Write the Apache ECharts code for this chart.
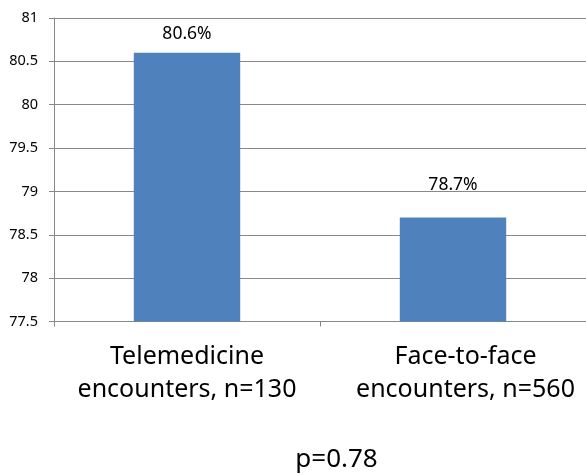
<!DOCTYPE html>
<html>
<head>
<meta charset="utf-8">
<script src="https://cdn.jsdelivr.net/npm/echarts@6/dist/echarts.min.js"></script>
<style>
  html, body { margin: 0; padding: 0; background: #fff; }
  #chart { width: 586px; height: 475px; }
</style>
</head>
<body>
<div id="chart"></div>
<script>
// Share of encounters, by visit type
const categories = ['Telemedicine\nencounters, n=130', 'Face-to-face\nencounters, n=560'];
const values = [80.6, 78.7];
const valueLabels = ['80.6%', '78.7%'];
const labelGaps = [10, 23];
const pValueText = 'p=0.78';

const FONT = '"Noto Sans", "Open Sans", sans-serif';

const chart = echarts.init(document.getElementById('chart'), null, { renderer: 'canvas' });

// the right-hand category caption sits a little right of its slot
const categoryData = categories.map((c, i) =>
  i === 1 ? { value: c, textStyle: { padding: [0, 0, 0, 25] } } : c
);

chart.setOption({
  animation: false,
  backgroundColor: '#ffffff',
  grid: { left: 54, top: 18, width: 534, height: 303.5, containLabel: false },
  xAxis: {
    type: 'category',
    data: categoryData,
    boundaryGap: true,
    axisLine: { show: true, lineStyle: { color: '#888888', width: 1 } },
    axisTick: { show: true, interval: 0, length: 5, lineStyle: { color: '#888888' } },
    axisLabel: {
      interval: 0, hideOverlap: false,
      color: '#000000', fontSize: 25, fontFamily: FONT, lineHeight: 33, margin: 19
    },
    splitLine: { show: false }
  },
  yAxis: {
    type: 'value',
    min: 77.5,
    max: 81,
    interval: 0.5,
    axisLine: { show: true, lineStyle: { color: '#888888', width: 1 } },
    axisTick: { show: true, length: 5, lineStyle: { color: '#888888' } },
    axisLabel: {
      color: '#000000', fontSize: 14.5, fontFamily: FONT, margin: 16,
      formatter: v => String(Math.round(v * 10) / 10)
    },
    splitLine: { show: true, lineStyle: { color: '#888888', width: 1 } }
  },
  series: [{
    type: 'bar',
    barWidth: '40%',
    itemStyle: { color: '#4F81BD' },
    data: values.map((v, i) => ({
      value: v,
      label: {
        show: true,
        position: 'top',
        distance: labelGaps[i],
        formatter: valueLabels[i],
        color: '#000000',
        fontSize: 17.5,
        fontFamily: FONT
      }
    }))
  }],
  graphic: [{
    type: 'text',
    x: 336.5,
    y: 460,
    style: {
      text: pValueText, fill: '#000000', fontSize: 26, fontFamily: FONT,
      align: 'center', verticalAlign: 'middle'
    }
  }]
});
</script>
</body>
</html>
